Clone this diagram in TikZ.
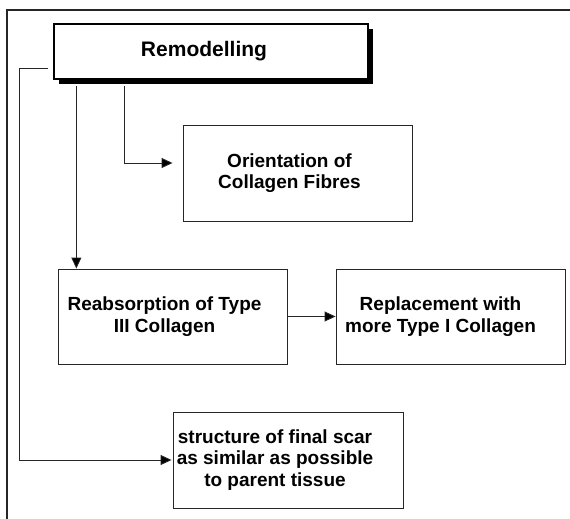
\documentclass[tikz,border=0pt]{standalone}
\usepackage{fontspec}
\setmainfont{Liberation Sans}
\usepackage{tikz}
\usetikzlibrary{positioning,arrows.meta,shadows}

\begin{document}
\begin{tikzpicture}[
  x=1pt, y=-1pt,
  panel/.style={draw=black!85, line width=0.9pt, fill=white, inner sep=0pt, minimum width=229pt, minimum height=95pt},
  lbl/.style={font=\bfseries\fontsize{19}{21.5}\selectfont, align=center, inner sep=0pt},
  conn/.style={draw=black!85, line width=0.9pt, -{Triangle[length=11pt,width=10pt,fill=black]}}
]
\useasboundingbox (0,0) rectangle (570,519);
% frame
\draw[line width=1.6pt, black!85] (570,10) -- (7,10) -- (7,519);

\node[panel, line width=1.3pt, draw=black, minimum width=314pt, minimum height=55pt,
  drop shadow={shadow xshift=5pt, shadow yshift=-5pt, fill=black, opacity=1}] (remod) at (211,51.5) {};
\node[lbl, font=\bfseries\fontsize{21}{24}\selectfont] (remodtxt) at ([xshift=-7pt]remod.center) {Remodelling};

\node[panel, minimum height=96pt] (orient) at (297.5,173) {};
\node[lbl] (orienttxt) at ([xshift=-8pt]orient.center) {Orientation of\\Collagen Fibres};

\node[panel] (reab) at (172.5,316.5) {};
\node[lbl] (reabtxt) at ([xshift=-8pt]reab.center) {Reabsorption of Type\\III Collagen};

\node[panel] (repl) at (450.5,316.5) {};
\node[lbl] (repltxt) at ([xshift=-10pt]repl.center) {Replacement with\\more Type I Collagen};

\node[panel, minimum width=230pt, minimum height=96pt] (scar) at (288,460) {};
\node[lbl] (scartxt) at ([xshift=-13pt]scar.center) {structure of final scar\\as similar as possible\\to parent tissue};

% connectors
\draw[conn] ([xshift=-5pt,yshift=11pt]remod.south west) -- ++(-29,0) |- ([xshift=-1pt]scar.west);
\draw[conn] ([xshift=23pt,yshift=-6pt]remod.south west) coordinate (d1) -- (d1 |- reab.north);
\draw[conn] ([xshift=71pt,yshift=-6pt]remod.south west) |- ([xshift=-10pt,yshift=10pt]orient.west);
\draw[conn] (reab) -- (repl);
\end{tikzpicture}
\end{document}
